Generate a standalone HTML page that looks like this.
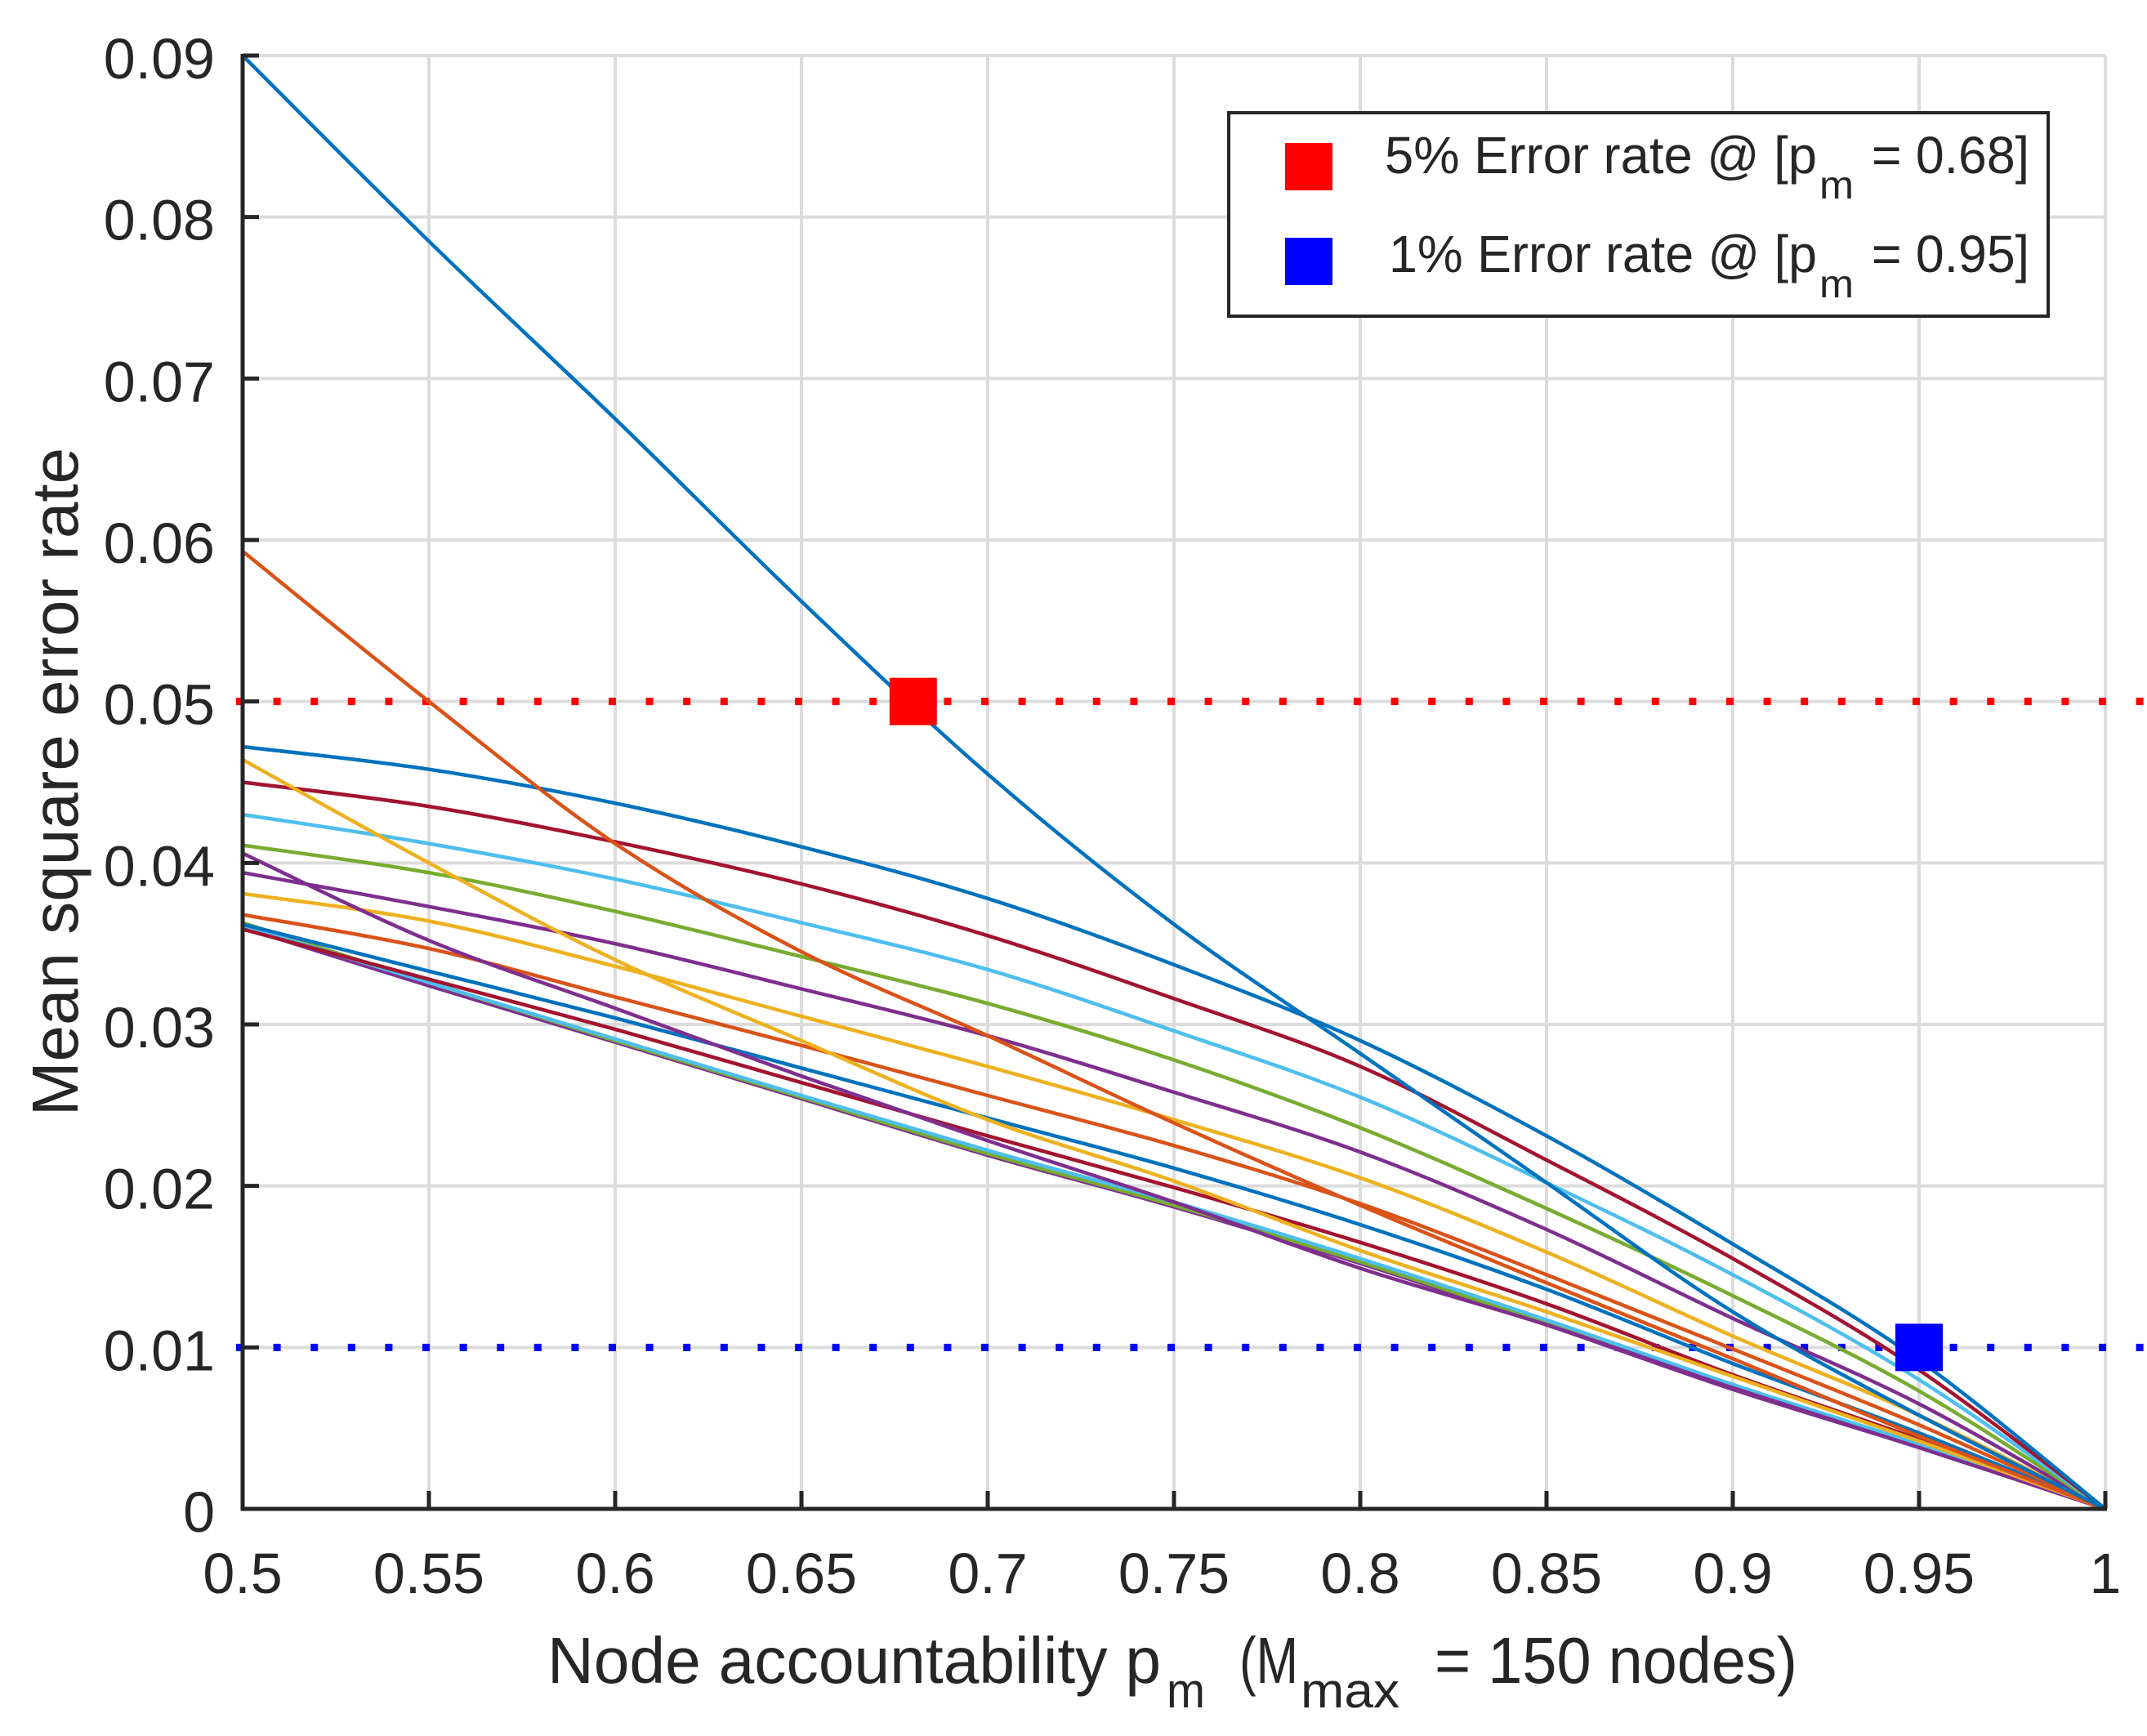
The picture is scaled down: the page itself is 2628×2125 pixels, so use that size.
<!DOCTYPE html>
<html><head><meta charset="utf-8"><style>
html,body{margin:0;padding:0;background:#fff;}
svg{display:block;font-family:"Liberation Sans",Arial,sans-serif;}
</style></head><body>
<svg id="chart" width="2628" height="2125" viewBox="0 0 2628 2125" xmlns="http://www.w3.org/2000/svg">
<rect x="0" y="0" width="2628" height="2125" fill="#fff"/>
<g id="grid"></g>
<g id="refs"></g>
<g id="series"></g>
<g id="markers"></g>
<g id="axes"></g>
<text transform="translate(95,957) rotate(-90)" text-anchor="middle" font-size="80" fill="#262626">Mean square error rate</text>
<text font-size="80" fill="#262626" y="2060"><tspan x="670" textLength="751" lengthAdjust="spacingAndGlyphs">Node accountability p</tspan><tspan x="1428" y="2090" font-size="60" textLength="47" lengthAdjust="spacingAndGlyphs">m</tspan><tspan x="1500" y="2060" textLength="89" lengthAdjust="spacingAndGlyphs"> (M</tspan><tspan x="1592" y="2090" font-size="60" textLength="121" lengthAdjust="spacingAndGlyphs">max</tspan><tspan x="1735" y="2060" textLength="465" lengthAdjust="spacingAndGlyphs"> = 150 nodes)</tspan></text>
<g>
<rect x="1504" y="138" width="1003" height="249" fill="#fff" stroke="#262626" stroke-width="4"/>
<g>
<rect x="1573" y="175" width="58" height="58" fill="#ff0000"/>
<text font-size="64" fill="#262626" y="212"><tspan x="1695" textLength="529" lengthAdjust="spacingAndGlyphs">5% Error rate @ [p</tspan><tspan x="2227" y="243" font-size="48" textLength="42" lengthAdjust="spacingAndGlyphs">m</tspan><tspan x="2291" y="212" textLength="193" lengthAdjust="spacingAndGlyphs">= 0.68]</tspan></text>
</g>
<g>
<rect x="1573" y="291" width="58" height="58" fill="#0000ff"/>
<text font-size="64" fill="#262626" y="333"><tspan x="1700" textLength="524" lengthAdjust="spacingAndGlyphs">1% Error rate @ [p</tspan><tspan x="2227" y="364" font-size="48" textLength="42" lengthAdjust="spacingAndGlyphs">m</tspan><tspan x="2291" y="333" textLength="193" lengthAdjust="spacingAndGlyphs">= 0.95]</tspan></text>
</g>
</g>
</svg>
<script>
const xTicks = [0.5,0.55,0.6,0.65,0.7,0.75,0.8,0.85,0.9,0.95,1];
const xTickLabels = ["0.5","0.55","0.6","0.65","0.7","0.75","0.8","0.85","0.9","0.95","1"];
const yTicks = [0,0.01,0.02,0.03,0.04,0.05,0.06,0.07,0.08,0.09];
const yTickLabels = ["0","0.01","0.02","0.03","0.04","0.05","0.06","0.07","0.08","0.09"];
const pm = [0.5,0.55,0.6,0.65,0.7,0.75,0.8,0.85,0.9,0.95,1];
const s1  = [0.0900,0.0785,0.0675,0.0562,0.0455,0.0362,0.0282,0.0202,0.0122,0.0058,0];
const s2  = [0.0593,0.0500,0.0412,0.0345,0.0293,0.0239,0.0188,0.0140,0.0093,0.0045,0];
const s3  = [0.0464,0.0400,0.0340,0.0290,0.0241,0.0203,0.0160,0.0122,0.0082,0.0042,0];
const s4  = [0.0406,0.0352,0.0310,0.0268,0.0228,0.0190,0.0149,0.0114,0.0075,0.0038,0];
const s5  = [0.0472,0.0458,0.0437,0.0410,0.0378,0.0337,0.0290,0.0231,0.0164,0.0092,0];
const s6  = [0.0450,0.0435,0.0413,0.0387,0.0355,0.0316,0.0274,0.0216,0.0155,0.0086,0];
const s7  = [0.0430,0.0412,0.0390,0.0363,0.0334,0.0296,0.0255,0.0202,0.0145,0.0080,0];
const s8  = [0.0411,0.0394,0.0370,0.0342,0.0313,0.0278,0.0236,0.0186,0.0132,0.0073,0];
const s9  = [0.0394,0.0373,0.0350,0.0322,0.0293,0.0258,0.0221,0.0173,0.0118,0.0065,0];
const s10 = [0.0381,0.0364,0.0336,0.0305,0.0274,0.0241,0.0205,0.0159,0.0107,0.0058,0];
const s11 = [0.0368,0.0347,0.0317,0.0287,0.0256,0.0225,0.0189,0.0145,0.0099,0.0052,0];
const s12 = [0.0362,0.0333,0.0304,0.0273,0.0242,0.0211,0.0176,0.0136,0.0090,0.0047,0];
const s13 = [0.0359,0.0328,0.0297,0.0264,0.0231,0.0199,0.0165,0.0127,0.0083,0.0043,0];
const s14 = [0.0361,0.0326,0.0291,0.0256,0.0222,0.0190,0.0155,0.0117,0.0077,0.0040,0];
const s15 = [0.0363,0.0326,0.0290,0.0255,0.0220,0.0188,0.0153,0.0115,0.0075,0.0039,0];
const s16 = [0.0360,0.0324,0.0289,0.0254,0.0219,0.0187,0.0152,0.0114,0.0074,0.0038,0];
const seriesList = [s1,s2,s3,s4,s5,s6,s7,s8,s9,s10,s11,s12,s13,s14,s15,s16];
const seriesColors = ["#0072BD","#D95319","#EDB120","#7E2F8E","#0072BD","#A2142F","#4DBEEE","#77AC30","#7E2F8E","#EDB120","#D95319","#0072BD","#A2142F","#4DBEEE","#77AC30","#7E2F8E"];
const thresholds = [0.05,0.01];
const thresholdPm = [0.68,0.95];
const thresholdColors = ["#ff0000","#0000ff"];

const X0=297, X1=2577, Y0=1847, Y1=68;
const xMin=0.5, xMax=1, yMin=0, yMax=0.09;
function sx(v){return X0+(v-xMin)/(xMax-xMin)*(X1-X0);}
function sy(v){return Y0-(v-yMin)/(yMax-yMin)*(Y0-Y1);}
const NS="http://www.w3.org/2000/svg";
function mk(tag,parent,attrs){const e=document.createElementNS(NS,tag);for(const k in attrs)e.setAttribute(k,attrs[k]);parent.appendChild(e);return e;}

const grid=document.getElementById('grid');
xTicks.forEach((t,i)=>{
  const l=mk('line',grid,{x1:sx(t),x2:sx(t),y1:Y1,y2:Y0,stroke:'#dcdcdc','stroke-width':4});
  
  
});
yTicks.forEach((t,i)=>{
  const l=mk('line',grid,{x1:X0,x2:X1,y1:sy(t),y2:sy(t),stroke:'#dcdcdc','stroke-width':4});
  
  
});

const refs=document.getElementById('refs');
thresholds.forEach((t,i)=>{
  const l=mk('line',refs,{x1:X0-8,x2:2628,y1:sy(t),y2:sy(t),stroke:thresholdColors[i],'stroke-width':9,'stroke-dasharray':'9 36.6'});
  
  
});

function pathFor(vals){
  const p=vals.map((v,i)=>[sx(pm[i]),sy(v)]);
  let d='M'+p[0][0].toFixed(1)+','+p[0][1].toFixed(1);
  for(let i=0;i<p.length-1;i++){
    const p0=p[Math.max(i-1,0)],p1=p[i],p2=p[i+1],p3=p[Math.min(i+2,p.length-1)];
    const c1x=p1[0]+(p2[0]-p0[0])/6,c1y=p1[1]+(p2[1]-p0[1])/6;
    const c2x=p2[0]-(p3[0]-p1[0])/6,c2y=p2[1]-(p3[1]-p1[1])/6;
    d+=' C'+c1x.toFixed(1)+','+c1y.toFixed(1)+' '+c2x.toFixed(1)+','+c2y.toFixed(1)+' '+p2[0].toFixed(1)+','+p2[1].toFixed(1);
  }
  return d;
}
const series=document.getElementById('series');
for(let k=seriesList.length-1;k>=0;k--){
  const path=mk('path',series,{d:pathFor(seriesList[k]),fill:'none',stroke:seriesColors[k],'stroke-width':4.5});
  
  
}

const markers=document.getElementById('markers');
thresholds.forEach((t,i)=>{
  const r=mk('rect',markers,{x:sx(thresholdPm[i])-29,y:sy(t)-29,width:58,height:58,fill:thresholdColors[i]});
  
  
});

const axes=document.getElementById('axes');
const xa=mk('line',axes,{x1:X0-2,x2:X1+2,y1:Y0,y2:Y0,stroke:'#262626','stroke-width':5});


const ya=mk('line',axes,{x1:X0,x2:X0,y1:Y1-2,y2:Y0+2,stroke:'#262626','stroke-width':5});


xTicks.forEach((t,i)=>{
  const tk=mk('line',axes,{x1:sx(t),x2:sx(t),y1:Y0,y2:Y0-22,stroke:'#262626','stroke-width':5});
  
  
  const tx=mk('text',axes,{x:sx(t),y:1950,'text-anchor':'middle','font-size':70,fill:'#262626'});
  tx.textContent=xTickLabels[i];
  
  
});
yTicks.forEach((t,i)=>{
  const tk=mk('line',axes,{x1:X0,x2:X0+20,y1:sy(t),y2:sy(t),stroke:'#262626','stroke-width':5});
  
  
  const tx=mk('text',axes,{x:263,y:sy(t)+28,'text-anchor':'end','font-size':70,fill:'#262626'});
  tx.textContent=yTickLabels[i];
  
  
});
</script>
</body></html>
